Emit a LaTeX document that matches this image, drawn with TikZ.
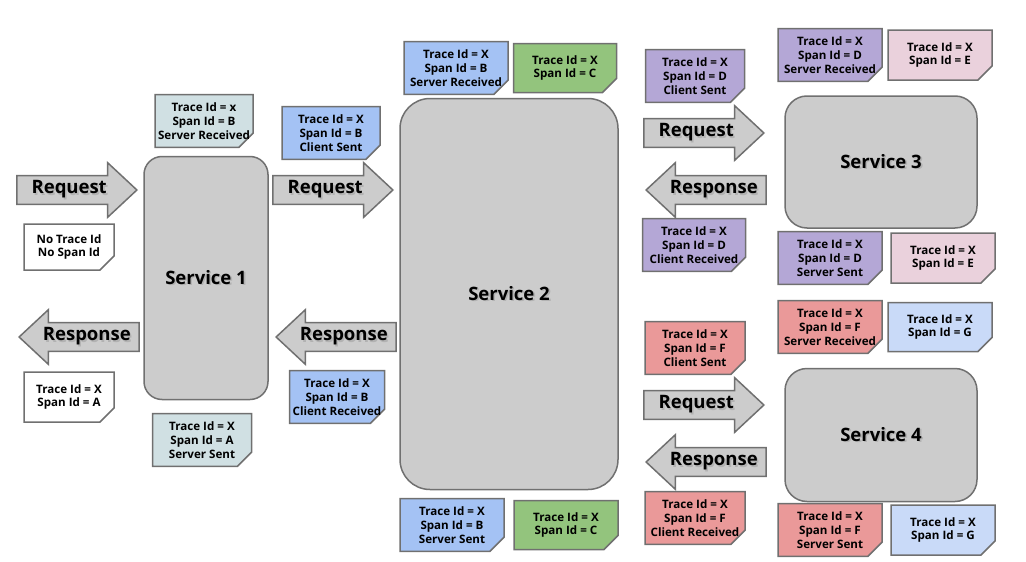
\documentclass[tikz,border=0pt]{standalone}
\usepackage{fontspec}
\setmainfont{Open Sans}
\usetikzlibrary{shapes.arrows,shapes.misc}

\definecolor{boxgray}{HTML}{CCCCCC}
\definecolor{linegray}{HTML}{707070}
\definecolor{foldgray}{HTML}{9A9A9A}
\definecolor{teal1}{HTML}{D0E0E3}
\definecolor{blue1}{HTML}{A4C2F4}
\definecolor{green1}{HTML}{93C47D}
\definecolor{purple1}{HTML}{B4A7D6}
\definecolor{pink1}{HTML}{EAD1DC}
\definecolor{red1}{HTML}{EA9999}
\definecolor{blue2}{HTML}{C9DAF8}

% text with a soft drop shadow
\newcommand{\shtext}[1]{\makebox[0pt][l]{\kern1.6pt\raisebox{-1.6pt}{\textcolor{black!30}{#1}}}#1}

\tikzset{
  service/.style={draw=linegray, line width=1.5pt, fill=boxgray, rounded corners=#1,
    font=\fontsize{18.5}{20}\selectfont\bfseries},
  flow/.style={single arrow, draw=linegray, line width=1.5pt, fill=boxgray,
    minimum height=120pt, single arrow head extend=13pt, single arrow tip angle=86,
    inner ysep=4pt, inner xsep=2pt, anchor=tip, font=\fontsize{18.5}{20}\selectfont\bfseries},
  back/.style={flow, shape border rotate=180},
  note/.style={chamfered rectangle, chamfered rectangle corners=south east,
    chamfered rectangle xsep=7pt, chamfered rectangle ysep=7pt,
    draw=linegray, line width=1.5pt, fill=#1, minimum width=103pt, minimum height=49pt,
    align=center, inner xsep=-6pt, inner ysep=1pt, text=black,
    font=\fontsize{11.6}{13.8}\selectfont\bfseries,
    path picture={\fill[foldgray]
      ([xshift=-7pt]path picture bounding box.south east) --
      ([xshift=-7pt,yshift=7pt]path picture bounding box.south east) --
      ([yshift=7pt]path picture bounding box.south east) -- cycle;}}
}

\begin{document}
\begin{tikzpicture}[x=1pt, y=-1pt]
  \useasboundingbox (0,0) rectangle (1026,562);

  % --- services ---
  \node[service=18pt, minimum width=124pt, minimum height=243pt] (s1) at (206,278) {\shtext{Service 1}};
  \node[service=30pt, minimum width=218pt, minimum height=391pt] (s2) at (509,294) {\shtext{Service 2}};
  \node[service=22pt, minimum width=192pt, minimum height=132pt] (s3) at (881,162) {\shtext{Service 3}};
  \node[service=22pt, minimum width=192pt, minimum height=133pt] (s4) at (881,435) {\shtext{Service 4}};

  % --- requests and responses ---
  \node[flow] (req1) at (138,190) {\shtext{Request}};
  \node[back] (resp1) at (18,337) {\shtext{Response}};
  \node[flow] (req2) at (394,190) {\shtext{Request}};
  \node[back] (resp2) at (275,337) {\shtext{Response}};
  \node[flow] (req3) at (765,133) {\shtext{Request}};
  \node[back] (resp3) at (645,190) {\shtext{Response}};
  \node[flow] (req4) at (765,405) {\shtext{Request}};
  \node[back] (resp4) at (645,462) {\shtext{Response}};

  % --- service 1 ---
  \node[note=white, minimum width=90pt, minimum height=46pt] (nostart) at (69,247) {No Trace Id\\No Span Id};
  \node[note=white, minimum width=90pt, minimum height=50pt] (aout) at (69,397) {Trace Id = X\\Span Id = A};
  \node[note=teal1, minimum width=98pt] (sr1) at (204,121) {Trace Id = x\\Span Id = B\\Server Received};
  \node[note=teal1, minimum width=99pt, minimum height=50pt] (ss1) at (202,440) {Trace Id = X\\Span Id = A\\Server Sent};
  \node[note=blue1, minimum width=98pt] (cs1) at (331,133) {Trace Id = X\\Span Id = B\\Client Sent};
  \node[note=blue1, minimum width=95pt] (cr1) at (337,397) {Trace Id = X\\Span Id = B\\Client Received};

  % --- service 2 ---
  \node[note=blue1, minimum width=104pt, minimum height=50pt] (sr2) at (456,68) {Trace Id = X\\Span Id = B\\Server Received};
  \node[note=green1] (c2top) at (565,68) {Trace Id = X\\Span Id = C};
  \node[note=blue1, minimum width=104pt] (ss2) at (452,525) {Trace Id = X\\Span Id = B\\Server Sent};
  \node[note=green1, minimum width=104pt] (c2bot) at (566,525) {Trace Id = X\\Span Id = C};
  \node[note=purple1, minimum width=99pt, minimum height=48pt] (cs3) at (695,76) {Trace Id = X\\Span Id = D\\Client Sent};
  \node[note=purple1, minimum height=48pt] (cr3) at (694,245) {Trace Id = X\\Span Id = D\\Client Received};
  \node[note=red1, minimum width=100pt, minimum height=50pt] (cs4) at (695,348) {Trace Id = X\\Span Id = F\\Client Sent};
  \node[note=red1, minimum width=100pt] (cr4) at (695,518) {Trace Id = X\\Span Id = F\\Client Received};

  % --- service 3 ---
  \node[note=purple1, minimum width=104pt, minimum height=50pt] (sr3) at (830,55) {Trace Id = X\\Span Id = D\\Server Received};
  \node[note=pink1, minimum width=104pt, minimum height=50pt] (e3top) at (940,55) {Trace Id = X\\Span Id = E};
  \node[note=purple1, minimum width=104pt, minimum height=50pt] (ss3) at (830,258) {Trace Id = X\\Span Id = D\\Server Sent};
  \node[note=pink1, minimum width=104pt, minimum height=50pt] (e3bot) at (943,258) {Trace Id = X\\Span Id = E};

  % --- service 4 ---
  \node[note=red1, minimum width=104pt] (sr4) at (830,327) {Trace Id = X\\Span Id = F\\Server Received};
  \node[note=blue2, minimum width=104pt] (g4top) at (940,327) {Trace Id = X\\Span Id = G};
  \node[note=red1, minimum width=104pt, minimum height=50pt] (ss4) at (830,530) {Trace Id = X\\Span Id = F\\Server Sent};
  \node[note=blue2, minimum width=104pt, minimum height=50pt] (g4bot) at (943,530) {Trace Id = X\\Span Id = G};
\end{tikzpicture}
\end{document}
